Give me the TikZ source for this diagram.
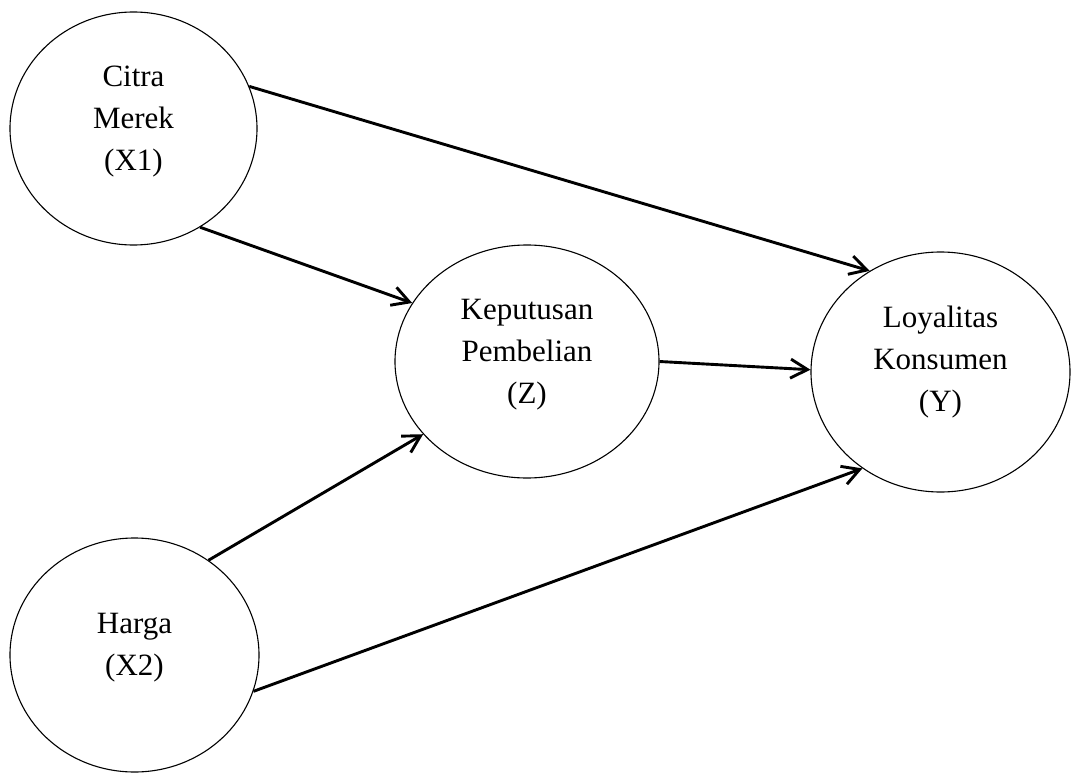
\documentclass[tikz,border=0pt]{standalone}
\usepackage{fontspec}
\setmainfont{Liberation Serif}
\usetikzlibrary{shapes.geometric,arrows.meta}

\begin{document}
\begin{tikzpicture}[x=1pt, y=-1pt,
        var/.style={draw, ellipse, line width=1.1pt, inner sep=0pt},
        lbl/.style={align=center, font=\fontsize{31}{42}\selectfont, yshift=7pt},
        path/.style={line width=2.9pt, -{Straight Barb[length=17pt, width=19pt, line width=2.9pt]}}]
        \useasboundingbox (0,0) rectangle (1071,773);
        \node[var, minimum width=247pt, minimum height=233pt,
            label={[lbl]center:Citra\\Merek\\(X1)}] (citra) at (133.5,128.5) {};
        \node[var, minimum width=249pt, minimum height=234pt,
            label={[lbl]center:Harga\\(X2)}] (harga) at (134.5,655) {};
        \node[var, minimum width=264pt, minimum height=233pt,
            label={[lbl]center:Keputusan\\Pembelian\\(Z)}] (keputusan) at (527,361.5) {};
        \node[var, minimum width=259pt, minimum height=240pt,
            label={[lbl, yshift=3pt]center:Loyalitas\\Konsumen\\(Y)}] (loyalitas) at (940.5,372) {};
        % jalur
        \draw[path] (citra.20.6) -- (loyalitas.125.4);
        \draw[path] (citra.-56.3) -- (keputusan.153.4);
        \draw[path] (keputusan.0) -- (loyalitas.179);
        \draw[path] (harga.52.6) -- (keputusan.-145.5);
        \draw[path] (harga.-17.3) -- (loyalitas.-129.9);
    \end{tikzpicture}
\end{document}
